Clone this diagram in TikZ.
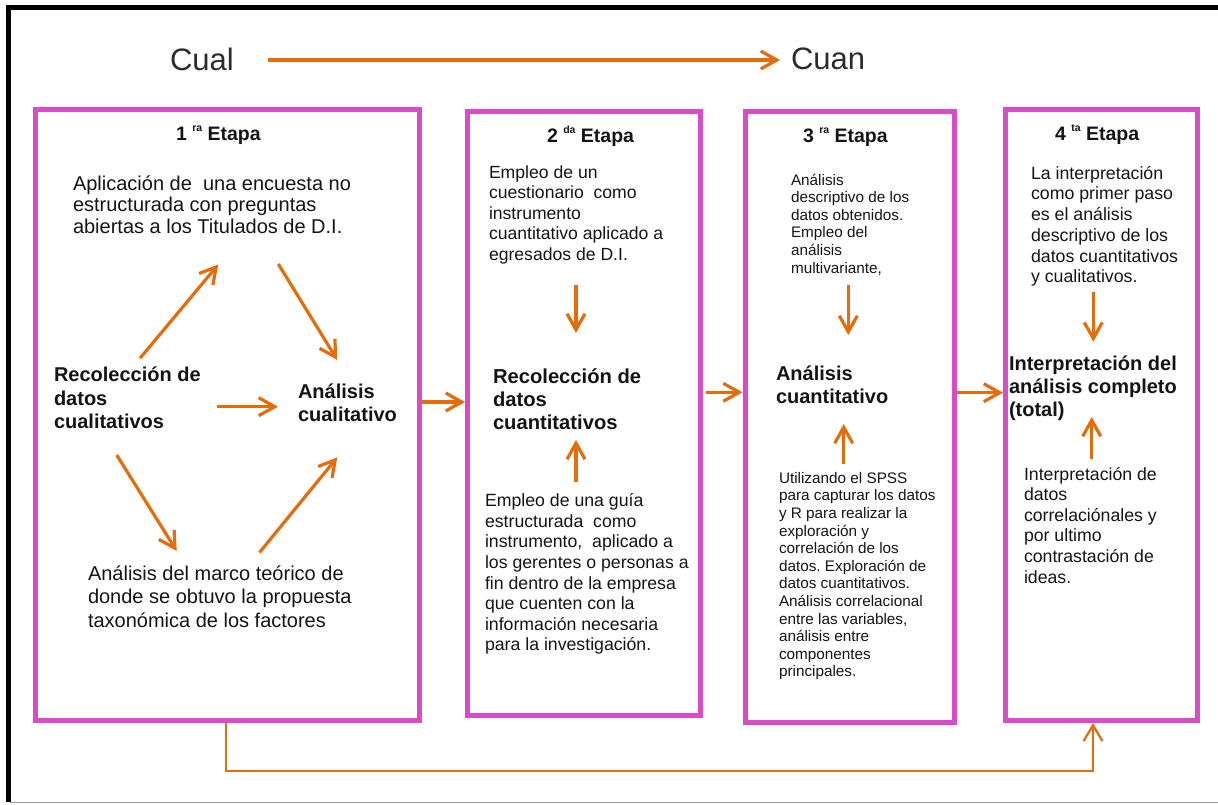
\documentclass[tikz,border=0pt]{standalone}
\usepackage{fontspec}
\setmainfont{Liberation Sans}
\usetikzlibrary{arrows.meta}
\frenchspacing
\definecolor{stagepink}{RGB}{218,75,200}
\definecolor{flow}{RGB}{228,108,10}
\definecolor{ink}{RGB}{20,20,20}
% zero-width strut that fixes the top of a text block one em above its first baseline
\newcommand\firstline{\rule{0pt}{1em}}
% small raised ordinal suffix of the stage titles
\newcommand\ordsuffix[1]{\raisebox{9pt}{\fontsize{10.5}{10.5}\selectfont\bfseries #1}}
\newcommand\fs[2]{\fontsize{#1}{#2}\selectfont}

\begin{document}
\begin{tikzpicture}[x=1pt,y=-1pt,
  stagebox/.style={draw=stagepink, line width=5pt, rectangle, inner sep=0pt},
  txt/.style={anchor=north west, inner sep=0pt, outer sep=0pt, align=left, text=ink},
  hdr/.style={anchor=base west, inner sep=0pt, outer sep=0pt, text=ink, font=\fs{19.5}{22}\bfseries},
  big/.style={anchor=base west, inner sep=0pt, outer sep=0pt, text=ink!90, font=\fs{31}{34}},
  arr/.style={draw=flow, line width=3.2pt, -{Straight Barb[length=16pt,width=18pt]}},
  link/.style={draw=flow, line width=2.2pt, -{Straight Barb[length=16pt,width=19pt]}}
]
\useasboundingbox (0,0) rectangle (1218,804);

% outer frame: heavy top and left rules, light bottom rule
\draw[line width=4.5pt] (6.25,7.5) -- (1218,7.5);
\draw[line width=4.5pt] (8.5,5.25) -- (8.5,802);
\draw[line width=1.2pt, black!40] (10,802.4) -- (1218,802.4);

% Cual -> Cuan
\node[big] (cual) at (170,70) {Cual};
\node[big] (cuan) at (791,69) {Cuan};
\coordinate (cualend) at (268,60);
\coordinate (cuanend) at (780,60);
\draw[arr] (cualend) -- (cuanend);

% the four stages
\node[stagebox, minimum width=384.5pt, minimum height=611pt] (s1) at (227.25,414.5) {};
\node[stagebox, minimum width=232.5pt, minimum height=604.5pt] (s2) at (583.75,413.25) {};
\node[stagebox, minimum width=209.5pt, minimum height=610.5pt] (s3) at (849.75,416.75) {};
\node[stagebox, minimum width=192pt, minimum height=611.5pt] (s4) at (1101.5,414.75) {};

\node[hdr] (h1) at (176,140) {1 \ordsuffix{ra} Etapa};
\node[hdr] (h2) at (547,142.5) {2 \ordsuffix{da} Etapa};
\node[hdr] (h3) at (803,142.5) {3 \ordsuffix{ra} Etapa};
\node[hdr] (h4) at (1055,140) {4 \ordsuffix{ta} Etapa};

% stage 1
\node[txt, font=\fs{20}{21.8}] (enc) at (73,170)
  {\firstline Aplicación de~ una encuesta no\\estructurada con preguntas\\abiertas a los Titulados de D.I.};
\node[txt, font=\fs{20}{23.3}\bfseries] (rec1) at (54,361.7)
  {\firstline Recolección de\\datos\\cualitativos};
\node[txt, font=\fs{20}{23.7}\bfseries] (an1) at (298,378)
  {\firstline Análisis\\cualitativo};
\node[txt, font=\fs{20}{23.7}] (marco) at (88,560)
  {\firstline Análisis del marco teórico de\\donde se obtuvo la propuesta\\taxonómica de los factores};

\coordinate (r1a) at (140,358.3);   \coordinate (e1a) at (218.3,264.5);
\coordinate (e1b) at (278.3,264);   \coordinate (n1a) at (337.3,360);
\coordinate (r1b) at (217,406.7);   \coordinate (n1b) at (278,406.7);
\coordinate (r1c) at (116.7,455);   \coordinate (m1a) at (176.7,551);
\coordinate (m1b) at (259.5,552.5); \coordinate (n1c) at (337.3,457.3);
\draw[arr] (r1a) -- (e1a);
\draw[arr] (e1b) -- (n1a);
\draw[arr] (r1b) -- (n1b);
\draw[arr] (r1c) -- (m1a);
\draw[arr] (m1b) -- (n1c);

% stage 2
\node[txt, font=\fs{17.6}{20.5}] (cues) at (489,160.7)
  {\firstline Empleo de un\\cuestionario~ como\\instrumento\\cuantitativo aplicado a\\egresados de D.I.};
\node[txt, font=\fs{20.2}{23.2}\bfseries] (rec2) at (493,363)
  {\firstline Recolección de\\datos\\cuantitativos};
\node[txt, font=\fs{17.7}{20.6}] (guia) at (485,489)
  {\firstline Empleo de una guía\\estructurada~ como\\instrumento,~ aplicado a\\los gerentes o personas a\\fin dentro de la empresa\\que cuenten con la\\información necesaria\\para la investigación.};
\draw[arr] (576,285) -- (576,333);
\draw[arr] (576,482) -- (576,440);

% stage 3
\node[txt, font=\fs{15.3}{17.6}] (desc) at (791,169.7)
  {\firstline Análisis\\descriptivo de los\\datos obtenidos.\\Empleo del\\análisis\\multivariante,};
\node[txt, font=\fs{20}{23}\bfseries] (an3) at (776,360)
  {\firstline Análisis\\cuantitativo};
\node[txt, font=\fs{15.3}{17.6}] (spss) at (779,468)
  {\firstline Utilizando el SPSS\\para capturar los datos\\y R para realizar la\\exploración y\\correlación de los\\datos. Exploración de\\datos cuantitativos.\\Análisis correlacional\\entre las variables,\\análisis entre\\componentes\\principales.};
\draw[arr] (848.3,285) -- (848.3,335);
\draw[arr] (843.7,464) -- (843.7,424);

% stage 4
\node[txt, font=\fs{17.75}{20.7}] (interp) at (1031,161.5)
  {\firstline La interpretación\\como primer paso\\es el análisis\\descriptivo de los\\datos cuantitativos\\y cualitativos.};
\node[txt, font=\fs{20}{23.3}\bfseries] (int4) at (1009,350)
  {\firstline Interpretación del\\análisis completo\\(total)};
\node[txt, font=\fs{17.7}{20.6}] (corr) at (1024,462.3)
  {\firstline Interpretación de\\datos\\correlaciónales y\\por ultimo\\contrastación de\\ideas.};
\draw[arr] (1093.3,292) -- (1093.3,341.7);
\draw[arr] (1091.7,459) -- (1091.7,417);

% stage to stage
\coordinate (y12) at (0,402);
\coordinate (y23) at (0,392.3);
\coordinate (y34) at (0,392.7);
\draw[arr] (s1.east |- y12) -- (s2.west |- y12);
\draw[arr] ([xshift=3.5pt]s2.east |- y23) -- (s3.west |- y23);
\draw[arr] (s3.east |- y34) -- (s4.west |- y34);

% return link from stage 1 to stage 4
\coordinate (lk1) at (226,770.7);
\coordinate (lk2) at (1093,770.7);
\draw[link] (lk1 |- s1.south) -- (lk1) -- (lk2) -- (lk2 |- s4.south);
\end{tikzpicture}
\end{document}
